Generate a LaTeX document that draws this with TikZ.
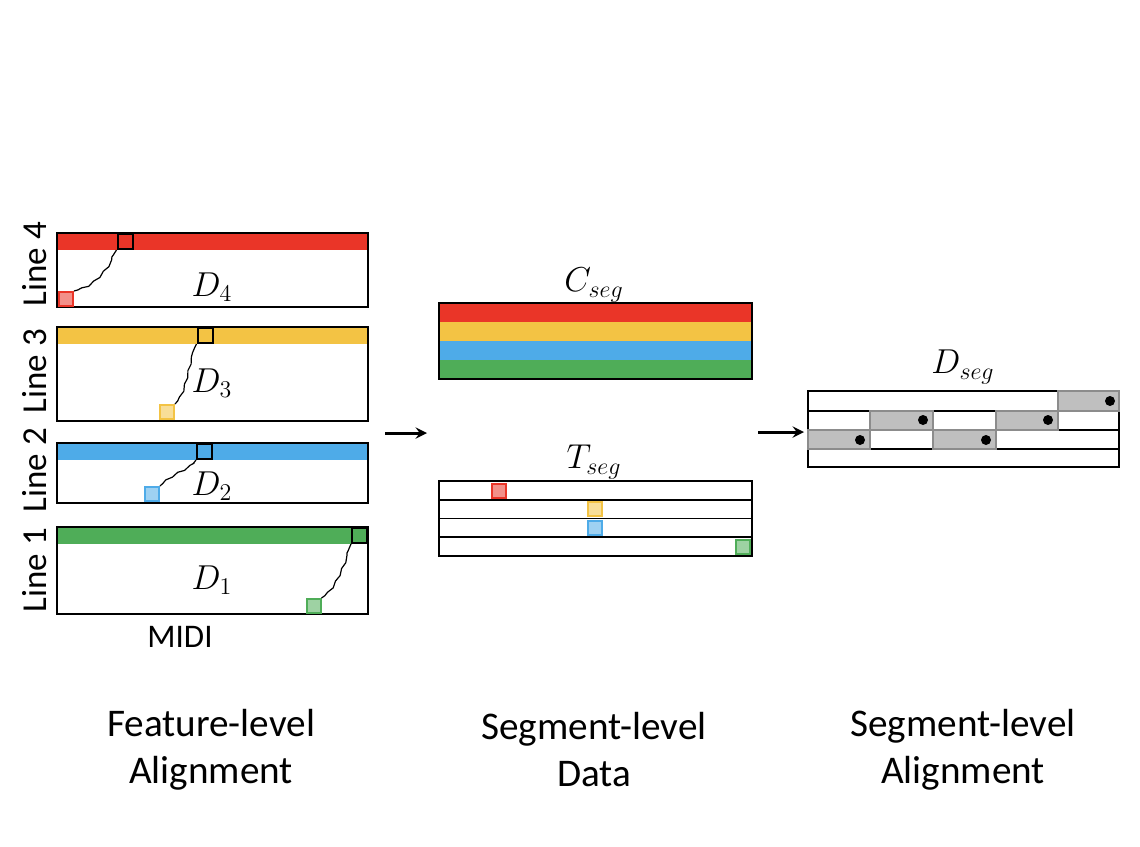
\documentclass[tikz,border=0pt]{standalone}
\usepackage[no-math]{fontspec}
\setmainfont{Carlito}
\usetikzlibrary{arrows,decorations.pathmorphing}

\definecolor{segred}{HTML}{EA3528}
\definecolor{segyellow}{HTML}{F3C344}
\definecolor{segblue}{HTML}{4EABE8}
\definecolor{seggreen}{HTML}{4FAD58}
\definecolor{cellgray}{HTML}{BFBFBF}
\definecolor{edgegray}{HTML}{8C8C8C}

\begin{document}
\begin{tikzpicture}[
    x=0.5pt, y=-0.5pt,
    frame/.style={draw=black, line width=1pt},
    bar/.style={fill=#1, draw=none},
    pick/.style={draw=black, line width=1pt, fill=#1, minimum size=7.5pt, inner sep=0pt},
    hit/.style={draw=#1, fill=#1!55!white, line width=1pt, minimum size=7pt, inner sep=0pt},
    warp/.style={decorate, decoration={snake, amplitude=0.4pt, segment length=7pt, pre length=2pt, post length=2pt}, line width=0.6pt},
    rowline/.style={draw=black, line width=0.8pt},
    cell/.style={fill=cellgray, draw=edgegray, line width=1pt},
    dot/.style={circle, fill=black, inner sep=0pt, minimum size=5pt},
    arrow/.style={->, line width=1.5pt, >=stealth},
    linelbl/.style={font=\fontsize{17.5}{20}\selectfont, rotate=90},
    mathlbl/.style={font=\fontsize{17}{20}\selectfont},
    title/.style={font=\fontsize{19.6}{23.5}\selectfont, align=center}
]
    \useasboundingbox (0,0) rectangle (1140,846);

    % Feature-level panels
    \fill[bar=segred] (57,233) rectangle (368,250);
    \draw[frame] (57,233) rectangle (368,307);
    \fill[bar=segyellow] (57,327) rectangle (368,344);
    \draw[frame] (57,327) rectangle (368,421);
    \fill[bar=segblue] (57,443) rectangle (368,460);
    \draw[frame] (57,443) rectangle (368,503);
    \fill[bar=seggreen] (57,527) rectangle (368,544);
    \draw[frame] (57,527) rectangle (368,614);

    % Line labels
    \node[linelbl] (l4) at (35,264) {Line 4};
    \node[linelbl] (l3) at (35,371) {Line 3};
    \node[linelbl] (l2) at (35,470) {Line 2};
    \node[linelbl] (l1) at (35,570) {Line 1};

    % Matched frames
    \node[pick=segred] (b4) at (125,241.5) {};
    \node[pick=segyellow] (b3) at (205,335.5) {};
    \node[pick=segblue] (b2) at (204.5,451.5) {};
    \node[pick=seggreen] (b1) at (359.5,535.5) {};

    \node[hit=segred] (h4) at (66,299) {};
    \node[hit=segyellow] (h3) at (167,412) {};
    \node[hit=segblue] (h2) at (152,494) {};
    \node[hit=seggreen] (h1) at (313.5,606) {};

    % Warping paths
    \draw[warp] (h4.north east) .. controls +(18,-4) and +(-14,22) .. (b4.south west);
    \draw[warp] (h3.north east) .. controls +(10,-8) and +(-10,18) .. (b3.south west);
    \draw[warp] (h2.north east) .. controls +(12,-12) and +(-8,12) .. (b2.south west);
    \draw[warp] (h1.north east) .. controls +(12,-6) and +(-8,18) .. (b1.south west);

    % Cost matrices
    \node[mathlbl] (d4) at (212,287) {$D_4$};
    \node[mathlbl] (d3) at (212,383) {$D_3$};
    \node[mathlbl] (d2) at (212,486) {$D_2$};
    \node[mathlbl] (d1) at (212,580) {$D_1$};
    \node[font=\fontsize{16.5}{19}\selectfont] (midi) at (180,637) {MIDI};

    % Arrow to segment-level data
    \coordinate (a1s) at (385,433);
    \coordinate (a1e) at (427,433);
    \draw[arrow] (a1s) -- (a1e);

    % C_seg
    \node[mathlbl] (cseg) at (594,285) {$C_{seg}$};
    \fill[bar=segred] (439,303) rectangle (752,322);
    \fill[bar=segyellow] (439,322) rectangle (752,341);
    \fill[bar=segblue] (439,341) rectangle (752,360);
    \fill[bar=seggreen] (439,360) rectangle (752,379);
    \draw[frame] (439,303) rectangle (752,379);

    % T_seg
    \node[mathlbl] (tseg) at (594,462) {$T_{seg}$};
    \foreach \y in {500,518.5,537} {
        \draw[rowline] (439,\y) -- (752,\y);
    }
    \draw[frame] (439,481) rectangle (752,556);
    \node[hit=segred] (t4) at (499,490.5) {};
    \node[hit=segyellow] (t3) at (595,509) {};
    \node[hit=segblue] (t2) at (595,527.5) {};
    \node[hit=seggreen] (t1) at (743,546.5) {};

    % Arrow to segment-level alignment
    \coordinate (a2s) at (758,432);
    \coordinate (a2e) at (804,432);
    \draw[arrow] (a2s) -- (a2e);

    % D_seg
    \node[mathlbl] (dseg) at (963,367) {$D_{seg}$};
    \foreach \y in {411,430,449} {
        \draw[rowline] (808,\y) -- (1119,\y);
    }
    \draw[frame] (808,391) rectangle (1119,467);
    \draw[cell] (808,430) rectangle (870,449);
    \draw[cell] (933,430) rectangle (996,449);
    \draw[cell] (870,411) rectangle (933,430);
    \draw[cell] (996,411) rectangle (1058,430);
    \draw[cell] (1058,391) rectangle (1119,411);
    \node[dot] (p1) at (860,440) {};
    \node[dot] (p2) at (923,420) {};
    \node[dot] (p3) at (986,440) {};
    \node[dot] (p4) at (1048,420) {};
    \node[dot] (p5) at (1110,401) {};

    % Titles
    \node[title] (t-feat) at (211,750) {Feature-level\\Alignment};
    \node[title] (t-data) at (594,750) {Segment-level\\Data};
    \node[title] (t-align) at (963,750) {Segment-level\\Alignment};

\end{tikzpicture}
\end{document}
